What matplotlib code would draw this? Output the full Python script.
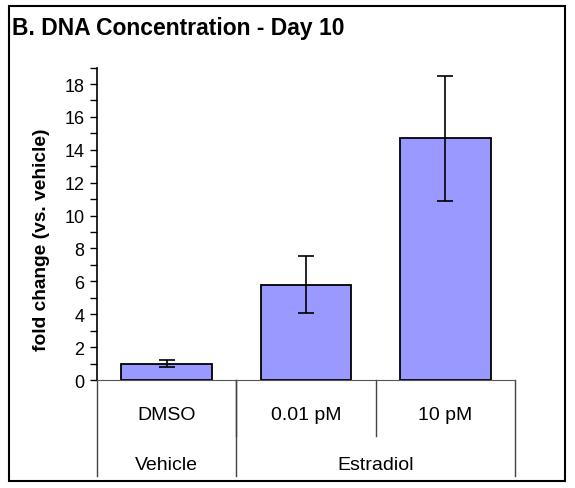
import numpy as np
import matplotlib.pyplot as plt
import matplotlib.ticker as ticker
from matplotlib.patches import Rectangle
from matplotlib.transforms import blended_transform_factory

# Fold change in DNA concentration on day 10
doses = ['DMSO', '0.01 pM', '10 pM']
groups = ['Vehicle', 'Estradiol']
group_members = [[0], [1, 2]]
fold_change = [1.0, 5.8, 14.7]
fold_err = [0.22, 1.75, 3.8]

plt.rcParams['font.family'] = ['Liberation Sans', 'DejaVu Sans']

W, H = 575, 489
fig = plt.figure(figsize=(W / 100, H / 100), dpi=100)
ax = fig.add_axes([97 / W, 1 - 381 / H, (515 - 97) / W, (381 - 68.6) / H])

x = np.arange(len(doses))
ax.bar(x, fold_change, width=0.65, color='#9999FF', edgecolor='black',
       linewidth=1.3, zorder=2)
ax.errorbar(x, fold_change, yerr=fold_err, fmt='none', ecolor='black',
            elinewidth=1.2, capsize=6, capthick=1.2, zorder=3)

ax.set_xlim(-0.5, len(doses) - 0.5)
ax.set_ylim(0, 19)
ax.yaxis.set_major_locator(ticker.MultipleLocator(2))
ax.yaxis.set_minor_locator(ticker.MultipleLocator(1))
ax.tick_params(axis='y', which='both', direction='out', length=5,
               width=1, labelsize=13, pad=4)
ax.set_xticks([])
ax.spines['top'].set_visible(False)
ax.spines['right'].set_visible(False)
ax.spines['bottom'].set_color('#555555')
ax.spines['left'].set_linewidth(1.2)
ax.set_ylabel('fold change (vs. vehicle)', fontsize=13.8, fontweight='bold')
ax.yaxis.set_label_coords(-(97 - 50) / (515 - 97), (381 - 240) / (381 - 68.6))

# Two-level category axis drawn below the plot
ah = 381 - 68.6
trans = blended_transform_factory(ax.transData, ax.transAxes)
line_kw = dict(color='#444444', linewidth=1, transform=trans, clip_on=False)
for i, name in enumerate(doses):
    ax.text(i, -(415 - 381) / ah, name, transform=trans, ha='center',
            va='center', fontsize=14)
for b in x[:-1] + 0.5:
    ax.plot([b, b], [0, -(437 - 381) / ah], **line_kw)
edges = [-0.5]
for name, members in zip(groups, group_members):
    ax.text(np.mean(members), -(465 - 381) / ah, name, transform=trans,
            ha='center', va='center', fontsize=14)
    edges.append(members[-1] + 0.5)
for b in edges:
    ax.plot([b, b], [0, -(477 - 381) / ah], **line_kw)

fig.text(12 / W, 1 - 28 / H, 'B. DNA Concentration - Day 10',
         fontsize=16.5, fontweight='bold', ha='left', va='center')

# Chart area border
fig.add_artist(Rectangle((9 / W, 1 - 482 / H), (565 - 9) / W, (482 - 7) / H,
                         fill=False, edgecolor='black', linewidth=1.5,
                         transform=fig.transFigure))

fig.savefig('out.png', dpi=100)
